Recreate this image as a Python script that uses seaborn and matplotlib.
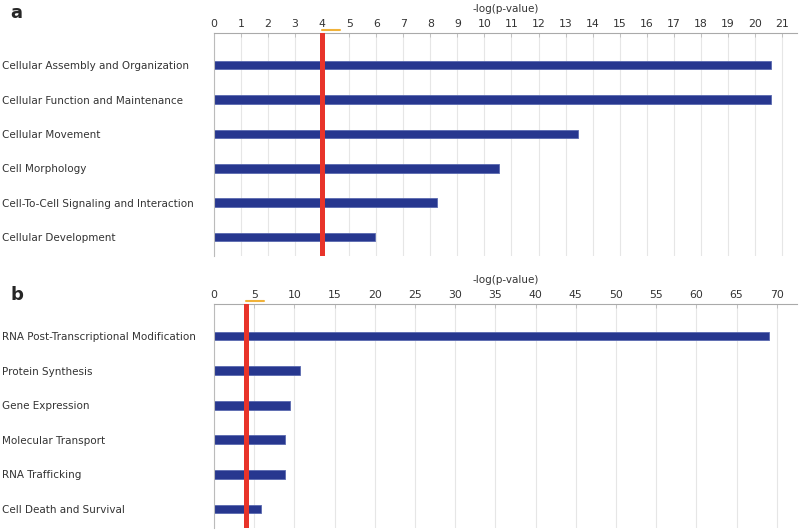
import matplotlib
matplotlib.use("Agg")
import matplotlib.pyplot as plt
import matplotlib.transforms as mtransforms
import seaborn as sns
import pandas as pd

# Données
cats_a = ["Cellular Assembly and Organization", "Cellular Function and Maintenance",
          "Cellular Movement", "Cell Morphology",
          "Cell-To-Cell Signaling and Interaction", "Cellular Development"]
vals_a = [20.6, 20.6, 13.45, 10.55, 8.25, 5.95]
ticks_a = list(range(0, 22))

cats_b = ["RNA Post-Transcriptional Modification", "Protein Synthesis",
          "Gene Expression", "Molecular Transport", "RNA Trafficking",
          "Cell Death and Survival"]
vals_b = [69.0, 10.7, 9.45, 8.85, 8.85, 5.9]
ticks_b = list(range(0, 71, 5))

seuil = 4.0  # seuil -log(p-value)

sns.set_style("white")
plt.rcParams['font.family'] = ['DejaVu Sans']

fig = plt.figure(figsize=(8, 5.3), dpi=100)
ax_a = fig.add_axes([0.2675, 0.517, 0.7285, 0.4205])
ax_b = fig.add_axes([0.2675, 0.004, 0.7285, 0.4225])


def panneau(ax, cats, vals, ticks, xmax, lettre, ylettre):
    df = pd.DataFrame({"cat": cats, "val": vals})
    sns.barplot(data=df, x="val", y="cat", orient="h", color="#27378f",
                width=0.25, edgecolor="#5a6ab0", linewidth=0.6, saturation=1, ax=ax)
    ax.set_xlim(0, xmax)
    ax.set_ylim(5.55, -0.93)
    ax.xaxis.tick_top()
    ax.xaxis.set_label_position("top")
    ax.set_xticks(ticks)
    ax.set_xlabel("-log(p-value)", fontsize=7.5, color="#333333", labelpad=5)
    ax.set_ylabel("")
    ax.tick_params(axis="x", labelsize=7.8, colors="#333333", length=3,
                   direction="in", pad=3, width=0.6)
    ax.tick_params(axis="x", color="#bbbbbb")
    ax.tick_params(axis="y", length=0, pad=152.6, labelsize=7.5, labelcolor="#333333")
    for lab in ax.get_yticklabels():
        lab.set_horizontalalignment("left")
    ax.grid(axis="x", color="#e6e6e6", linewidth=0.8)
    ax.set_axisbelow(True)
    for s in ["right", "bottom"]:
        ax.spines[s].set_visible(False)
    ax.spines["top"].set_color("#aaaaaa")
    ax.spines["left"].set_color("#bbbbbb")
    # ligne de seuil
    ax.axvline(seuil, color="#e8342a", linewidth=3.6, zorder=5)
    # petit trait orange sous le seuil
    trans = mtransforms.blended_transform_factory(ax.transData, ax.transAxes)
    w = xmax * 0.031
    ax.plot([seuil, seuil + w], [1.012, 1.012], color="#f0b23a", linewidth=1.5,
            transform=trans, clip_on=False)
    fig.text(0.013, ylettre, lettre, fontsize=13, fontweight="bold", va="center")


panneau(ax_a, cats_a, vals_a, ticks_a, 21.55, "a", 0.975)
panneau(ax_b, cats_b, vals_b, ticks_b, 72.5, "b", 0.443)

fig.savefig("out.png", dpi=100)
